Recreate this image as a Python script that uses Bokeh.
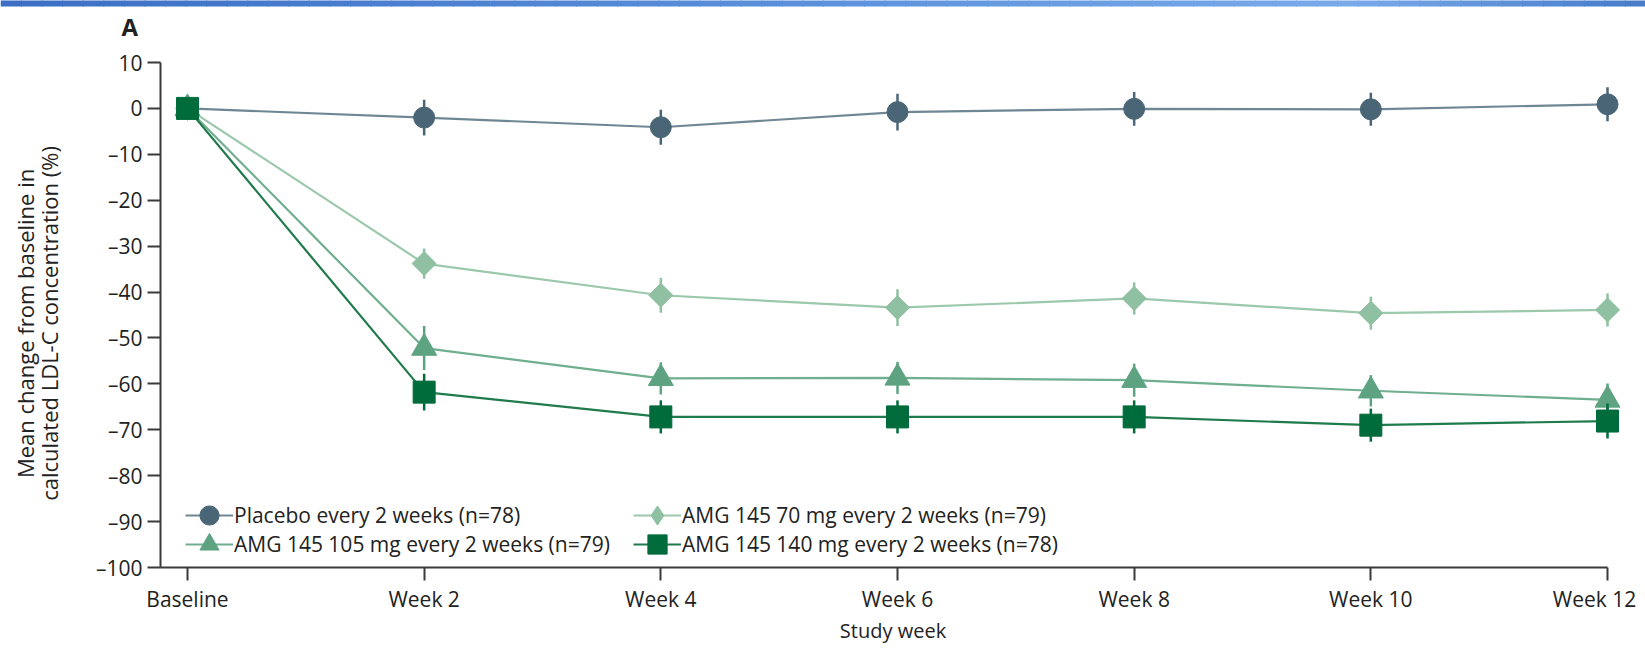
import numpy as np
from bokeh.plotting import figure
from bokeh.models import FixedTicker, Legend, LegendItem
from bokeh.core.properties import value
from bokeh.layouts import column, row
from bokeh.embed import file_html
from bokeh.resources import INLINE

# ---------------- data ----------------
weeks = [0, 2, 4, 6, 8, 10, 12]
x_tick_labels = ["Baseline", "Week 2", "Week 4", "Week 6", "Week 8", "Week 10", "Week 12"]
y_ticks = [10, 0, -10, -20, -30, -40, -50, -60, -70, -80, -90, -100]
y_tick_labels = ["10", "0", "–10", "–20", "–30", "–40", "–50", "–60", "–70", "–80", "–90", "–100"]

placebo_mean = [0, -2.0, -4.1, -0.8, -0.1, -0.2, 0.9]
placebo_err = [0, 3.9, 3.8, 4.0, 3.7, 3.6, 3.7]
mg70_mean = [0, -33.8, -40.7, -43.4, -41.4, -44.6, -43.9]
mg70_err = [0, 3.3, 3.8, 4.0, 3.5, 3.6, 3.6]
mg105_mean = [0, -52.2, -58.8, -58.7, -59.2, -61.5, -63.5]
mg105_err = [0, 4.8, 3.5, 3.5, 3.6, 3.4, 3.6]
mg140_mean = [0, -61.8, -67.2, -67.2, -67.2, -69.0, -68.1]
mg140_err = [0, 4.0, 3.6, 3.6, 3.6, 3.6, 3.8]

series_labels = ["Placebo every 2 weeks (n=78)",
                 "AMG 145 70 mg every 2 weeks (n=79)",
                 "AMG 145 105 mg every 2 weeks (n=79)",
                 "AMG 145 140 mg every 2 weeks (n=78)"]
y_label_lines = ["Mean change from baseline in", "calculated LDL-C concentration (%)"]
x_label = "Study week"
panel_letter = "A"

FONT = "Open Sans"
TXT = "#222222"
AX = "#3a3a3a"
W = 1645
TOP_H = 48          # strip + panel letter
LEFT_W = 70         # y-axis title column
MAIN_H = 648 - TOP_H
MAIN_W = W - LEFT_W

def bare(fig):
    fig.grid.visible = False
    fig.outline_line_color = None
    return fig

# ---------------- header: gradient strip + panel letter ----------------
top = bare(figure(width=W, height=TOP_H, x_range=(0, W), y_range=(0, TOP_H), title=None,
                  x_axis_type=None, y_axis_type=None,
                  toolbar_location=None, output_backend="svg", min_border=0))
stops = [(0.0, (60, 110, 195)), (0.55, (96, 148, 222)), (0.82, (122, 170, 234)), (1.0, (70, 122, 200))]
nseg = 80
edges = np.linspace(0, W, nseg + 1)
cols = []
for i in range(nseg):
    t = (edges[i] + edges[i + 1]) / 2 / W
    for (t0, c0), (t1, c1) in zip(stops[:-1], stops[1:]):
        if t0 <= t <= t1:
            f = (t - t0) / (t1 - t0)
            c = tuple(int(round(a + (b - a) * f)) for a, b in zip(c0, c1))
            break
    cols.append("#%02x%02x%02x" % c)
top.quad(left=edges[:-1], right=edges[1:] + 1, bottom=TOP_H - 6, top=TOP_H + 2, color=cols, line_color=None)
top.text(x=[121], y=[TOP_H - 26], text=[panel_letter], text_font=value(FONT),
         text_font_size="24px", text_font_style="bold", text_color=TXT,
         text_align="left", text_baseline="alphabetic")

# ---------------- left column: y-axis title ----------------
left = bare(figure(width=LEFT_W, height=MAIN_H, x_range=(0, LEFT_W), y_range=(0, MAIN_H), title=None,
                   x_axis_type=None, y_axis_type=None,
                   toolbar_location=None, output_backend="svg", min_border=0))
left.text(x=[24, 48], y=[MAIN_H - (358 - TOP_H)] * 2, text=y_label_lines, angle=np.pi / 2,
          text_font=value(FONT), text_font_size="22px", text_color=TXT,
          text_align="center", text_baseline="middle")

# ---------------- main plot ----------------
x0, x1 = -0.228, 12.152
p = bare(figure(width=MAIN_W, height=MAIN_H, x_range=(x0, x1), y_range=(-100, 10), title=None,
                toolbar_location=None, output_backend="svg",
                min_border_left=160 - LEFT_W, min_border_right=20,
                min_border_top=62 - TOP_H, min_border_bottom=81))

for ax in (p.xaxis[0], p.yaxis[0]):
    ax.axis_line_color = AX
    ax.axis_line_width = 2
    ax.major_tick_line_color = AX
    ax.major_tick_line_width = 2
    ax.major_tick_out = 13
    ax.major_tick_in = 0
    ax.minor_tick_line_color = None
    ax.major_label_text_font = FONT
    ax.major_label_text_font_size = "21px"
    ax.major_label_text_color = TXT
    ax.axis_label_text_font = FONT
    ax.axis_label_text_font_size = "20px"
    ax.axis_label_text_font_style = "normal"
    ax.axis_label_text_color = TXT

# x axis: tick marks drawn as "minor" ticks at every visit, labels as "major" ticks;
# the last label is nudged left so it stays inside the canvas (as in the reference)
label_pos = weeks[:-1] + [weeks[-1] - 0.11]
p.xaxis.ticker = FixedTicker(ticks=label_pos, minor_ticks=weeks)
p.xaxis.major_label_overrides = dict(zip(label_pos, x_tick_labels))
p.xaxis.major_tick_line_color = None
p.xaxis.minor_tick_line_color = AX
p.xaxis.minor_tick_line_width = 2
p.xaxis.minor_tick_out = 13
p.xaxis.minor_tick_in = 0
p.xaxis.bounds = (x0, 12)
p.xaxis.major_label_standoff = 4
p.xaxis.axis_label = x_label
p.xaxis.axis_label_standoff = 1

p.yaxis.ticker = FixedTicker(ticks=y_ticks)
p.yaxis.major_label_overrides = dict(zip(y_ticks, y_tick_labels))
p.yaxis.major_label_standoff = 5

specs = [
    (placebo_mean, placebo_err, "#4a6676", "#6f8794", "circle", 21, 0.0, "circle"),
    (mg70_mean, mg70_err, "#8fc0a1", "#9cc8ac", "square", 17, np.pi / 4, "diamond"),
    (mg105_mean, mg105_err, "#5da382", "#6fae8f", "triangle", 25, 0.0, "triangle"),
    (mg140_mean, mg140_err, "#006b3b", "#1f7a4c", "square", 22, 0.0, "square"),
]

items = []
for (mean, err, mcol, lcol, marker, size, ang, lmarker), lab in zip(specs, series_labels):
    lo = [m - e for m, e in zip(mean, err)]
    hi = [m + e for m, e in zip(mean, err)]
    lr = p.line(weeks, mean, line_color=lcol, line_width=2.2)
    p.segment(x0=weeks, y0=lo, x1=weeks, y1=hi, line_color=mcol, line_width=2.5)
    sr = p.scatter(weeks, mean, marker=marker, size=size, angle=ang,
                   fill_color=mcol, line_color=mcol, line_width=1)
    if lmarker != marker or ang != 0.0:
        # legend-only proxy so the key shows the diamond shape (legend glyphs are never rotated)
        sr = p.scatter([np.nan], [np.nan], marker=lmarker, size=size,
                       fill_color=mcol, line_color=mcol, line_width=1)
    items.append(LegendItem(label=lab, renderers=[lr, sr]))

def make_legend(item, loc):
    return Legend(items=[item], location=loc, orientation="vertical",
                  glyph_width=48, glyph_height=48, spacing=0, padding=0,
                  label_standoff=1, margin=0,
                  label_text_font=FONT, label_text_font_size="21px", label_text_color=TXT,
                  border_line_alpha=0, background_fill_alpha=0)

p.add_layout(make_legend(items[0], (25, 28)))
p.add_layout(make_legend(items[2], (25, -1)))
p.add_layout(make_legend(items[1], (473, 28)))
p.add_layout(make_legend(items[3], (473, -1)))

layout = column(top, row(left, p, spacing=0), spacing=0)
open("out.html", "w").write(file_html(layout, INLINE))
